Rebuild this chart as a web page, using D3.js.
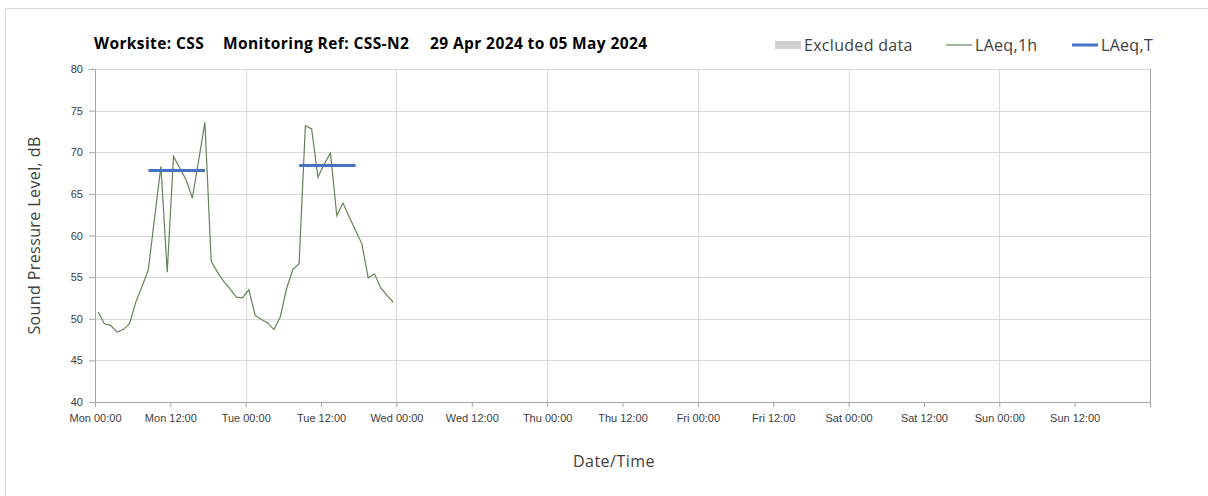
<!DOCTYPE html>
<html>
<head>
<meta charset="utf-8">
<script src="https://cdn.jsdelivr.net/npm/d3@7"></script>
<style>
  body { margin: 0; background: #fff; }
  svg { display: block; font-family: "Open Sans", sans-serif; }
  .grid line { stroke: #d9d9d9; stroke-width: 1; }
  .tick text { fill: #404040; font-size: 11px; }
</style>
</head>
<body>
<div id="chart"></div>
<script>
// hourly LAeq,1h readings, Mon 29 Apr 00:00 onwards
const laeq1h = [
  50.8, 49.4, 49.2, 48.4, 48.7, 49.4, 52.0, 53.9, 55.9, 62.2, 68.3, 55.6,
  69.5, 68.1, 66.7, 64.5, 69.0, 73.6, 56.9, 55.6, 54.5, 53.6, 52.6, 52.5,
  53.5, 50.4, 49.9, 49.5, 48.7, 50.2, 53.6, 55.9, 56.6, 73.2, 72.8, 67.0,
  68.6, 69.9, 62.4, 63.9, 62.2, 60.6, 59.0, 54.9, 55.4, 53.7, 52.8, 52.0
];
// period LAeq,T (08:00 - 18:00)
const periodDays = ["2024-04-29", "2024-04-30"];
const laeqT = [67.8, 68.4];
const yTicks = [40, 45, 50, 55, 60, 65, 70, 75, 80];
const legendItems = ["Excluded data", "LAeq,1h", "LAeq,T"];

const W = 1208, H = 496;
const margin = { left: 95, right: 58, top: 69, bottom: 94 };

const svg = d3.select("#chart").append("svg")
  .attr("width", W)
  .attr("height", H);

// outer frame
svg.append("path")
  .attr("d", `M5.5,${H + 2}V8.5H${W + 2}`)
  .attr("fill", "none")
  .attr("stroke", "#d9d9d9");

const start = new Date(Date.UTC(2024, 3, 29));
const end = d3.utcDay.offset(start, 7);

const x = d3.scaleUtc()
  .domain([start, end])
  .range([margin.left, W - margin.right]);

const y = d3.scaleLinear()
  .domain([40, 80])
  .range([H - margin.bottom, margin.top]);

const data = laeq1h.map((v, i) => ({
  t: new Date(start.getTime() + (i + 0.5) * 3600e3),
  v: v
}));

// gridlines
svg.append("g").attr("class", "grid")
  .selectAll("line")
  .data(yTicks.slice(1))
  .join("line")
  .attr("x1", margin.left).attr("x2", W - margin.right)
  .attr("y1", d => Math.round(y(d)) + 0.5).attr("y2", d => Math.round(y(d)) + 0.5);

svg.append("g").attr("class", "grid")
  .selectAll("line")
  .data(d3.utcDay.range(d3.utcDay.offset(start, 1), end))
  .join("line")
  .attr("x1", d => Math.round(x(d)) + 0.5).attr("x2", d => Math.round(x(d)) + 0.5)
  .attr("y1", margin.top).attr("y2", H - margin.bottom);

// axes
const xAxis = d3.axisBottom(x)
  .tickValues(d3.utcHour.every(12).range(start, end))
  .tickFormat(d3.utcFormat("%a %H:%M"))
  .tickSize(5)
  .tickPadding(7);

const gx = svg.append("g")
  .attr("transform", `translate(0,${H - margin.bottom})`)
  .call(xAxis);
gx.select(".domain").attr("stroke", "#a6a6a6").attr("d", `M${margin.left},0.5H${W - margin.right}`);
gx.selectAll(".tick line").attr("stroke", "#a6a6a6");

const gy = svg.append("g")
  .attr("transform", `translate(${margin.left},0)`)
  .call(d3.axisLeft(y).tickValues(yTicks).tickSize(6).tickPadding(6));
gy.select(".domain").attr("stroke", "#a6a6a6");
gy.selectAll(".tick line").attr("stroke", "#a6a6a6");

// right frame edge
svg.append("line")
  .attr("x1", W - margin.right + 0.5).attr("x2", W - margin.right + 0.5)
  .attr("y1", margin.top).attr("y2", H - margin.bottom + 5)
  .attr("stroke", "#a6a6a6");

// LAeq,1h line
svg.append("path")
  .datum(data)
  .attr("fill", "none")
  .attr("stroke", "#65845a")
  .attr("stroke-width", 1.2)
  .attr("d", d3.line().x(d => x(d.t)).y(d => y(d.v)));

// LAeq,T bars across 08:00-18:00
svg.append("g")
  .selectAll("line")
  .data(periodDays.map((d, i) => ({ day: new Date(d + "T00:00:00Z"), v: laeqT[i] })))
  .join("line")
  .attr("x1", d => x(d3.utcMinute.offset(d.day, 8 * 60 + 30)))
  .attr("x2", d => x(d3.utcMinute.offset(d.day, 17 * 60 + 30)))
  .attr("y1", d => y(d.v)).attr("y2", d => y(d.v))
  .attr("stroke", "#4472c4")
  .attr("stroke-width", 3);

// axis titles
svg.append("text")
  .attr("transform", `translate(40,${(margin.top + H - margin.bottom) / 2}) rotate(-90)`)
  .attr("text-anchor", "middle")
  .attr("font-size", 16)
  .attr("letter-spacing", 0.4)
  .attr("fill", "#404040")
  .text("Sound Pressure Level, dB");

svg.append("text")
  .attr("x", 614)
  .attr("y", 467)
  .attr("text-anchor", "middle")
  .attr("font-size", 16)
  .attr("letter-spacing", 0.5)
  .attr("fill", "#404040")
  .text("Date/Time");

// title
const titleParts = [
  { x: 94, text: "Worksite: CSS" },
  { x: 223, text: "Monitoring Ref: CSS-N2" },
  { x: 430, text: "29 Apr 2024 to 05 May 2024" }
];
svg.append("g")
  .selectAll("text")
  .data(titleParts)
  .join("text")
  .attr("x", d => d.x)
  .attr("y", 49)
  .attr("font-size", 15.5)
  .attr("font-weight", "bold")
  .attr("letter-spacing", 0.4)
  .attr("fill", "#000")
  .text(d => d.text);

// legend
const legendX = [775, 946, 1072];
const lg = svg.append("g")
  .selectAll("g")
  .data(legendItems)
  .join("g")
  .attr("transform", (d, i) => `translate(${legendX[i]},45)`);

lg.filter((d, i) => i === 0).append("rect")
  .attr("x", 0).attr("y", -4).attr("width", 26).attr("height", 8)
  .attr("fill", "#d0d0d0");
lg.filter((d, i) => i === 1).append("line")
  .attr("x1", 0).attr("x2", 26)
  .attr("stroke", "#65845a").attr("stroke-width", 1.2);
lg.filter((d, i) => i === 2).append("line")
  .attr("x1", 0).attr("x2", 26)
  .attr("stroke", "#4472c4").attr("stroke-width", 3);

lg.append("text")
  .attr("x", 29)
  .attr("y", 5.5)
  .attr("font-size", 16)
  .attr("letter-spacing", 0.3)
  .attr("fill", "#404040")
  .text(d => d);
</script>
</body>
</html>
